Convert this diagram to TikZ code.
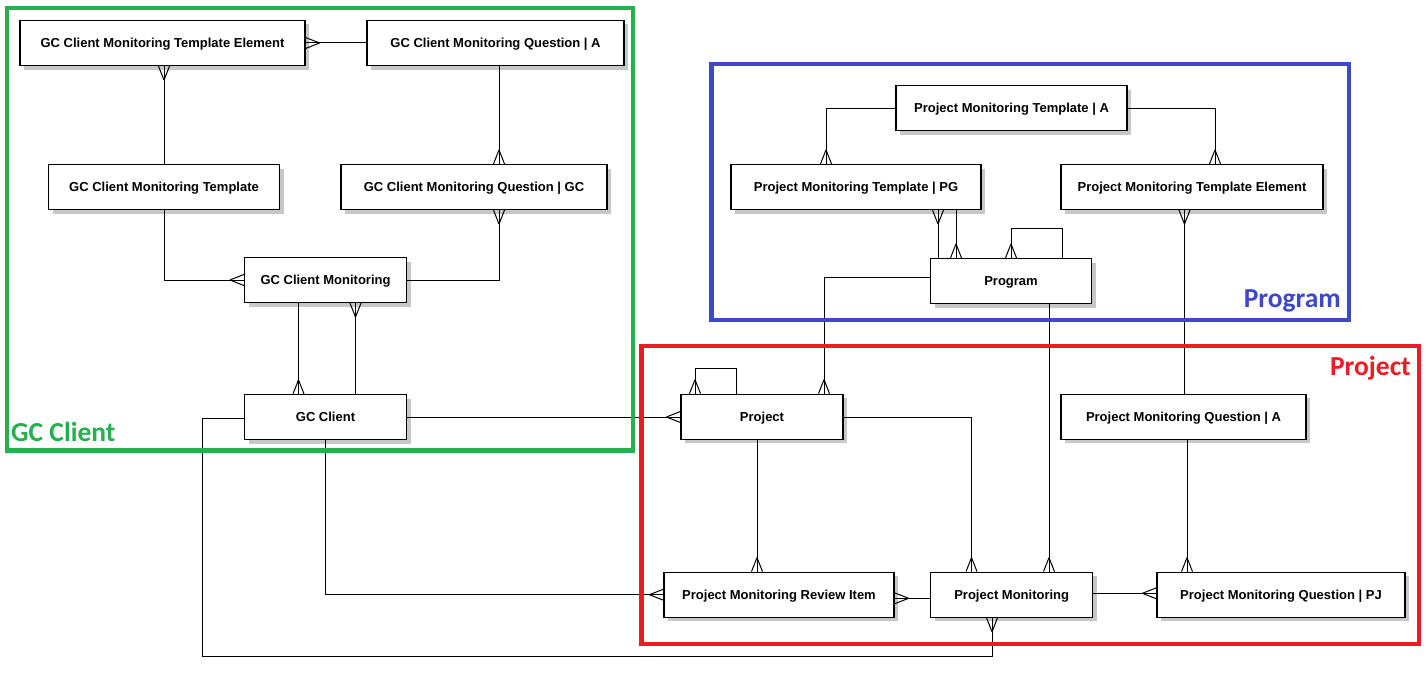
\documentclass[tikz,border=0pt]{standalone}
\usepackage{fontspec}
\setmainfont{Liberation Sans}
\newfontfamily\areafont{Carlito}
\usetikzlibrary{shadows,decorations.markings}
\definecolor{gcgreen}{HTML}{22B14C}
\definecolor{pgblue}{HTML}{3F48CC}
\definecolor{pjred}{HTML}{ED1C24}
\tikzset{
  ent/.style={draw, fill=white, line width=1.2pt, inner sep=0pt,
    minimum height=45pt, text height=11.3pt, text depth=2pt,
    font=\fontsize{13}{15}\selectfont\bfseries,
    drop shadow={shadow xshift=4pt, shadow yshift=-4pt, fill=black!22, opacity=1}},
  rel/.style={line width=1pt},
  % crow's foot at the end of a connector
  crowend/.style={rel, decoration={markings, mark=at position 1 with {
      \draw[line width=1pt] (-14,0) -- (0,5.5) (-14,0) -- (0,-5.5);}},
    postaction=decorate},
  area/.style={line width=4.5pt},
  arealabel/.style={font=\areafont\fontsize{27.5}{32}\selectfont\bfseries, inner sep=0pt}
}
\begin{document}
\begin{tikzpicture}[x=1pt, y=-1pt]
\useasboundingbox[fill=white] (0,0) rectangle (1426,677);

% entities
\node[ent, minimum width=285pt] (gcmte)  at (162.5,43)   {GC Client Monitoring Template Element};
\node[ent, minimum width=257pt] (gcmqa)  at (495.5,43)   {GC Client Monitoring Question | A};
\node[ent, minimum width=231pt] (gcmt)   at (164,187)    {GC Client Monitoring Template};
\node[ent, minimum width=266pt] (gcmqgc) at (474,187)    {GC Client Monitoring Question | GC};
\node[ent, minimum width=162pt] (gcm)    at (325.5,280)  {GC Client Monitoring};
\node[ent, minimum width=162pt] (gcc)    at (325.5,417)  {GC Client};
\node[ent, minimum width=231pt] (pmta)   at (1011.5,108) {Project Monitoring Template | A};
\node[ent, minimum width=250pt] (pmtpg)  at (856,187)    {Project Monitoring Template | PG};
\node[ent, minimum width=262pt] (pmte)   at (1192,187)   {Project Monitoring Template Element};
\node[ent, minimum width=161pt] (pg)     at (1011,281)   {Program};
\node[ent, minimum width=162pt] (pj)     at (762,416.7)  {Project};
\node[ent, minimum width=245pt] (pmqa)   at (1183.5,416.7) {Project Monitoring Question | A};
\node[ent, minimum width=230pt] (pmri)   at (779,594.7)  {Project Monitoring Review Item};
\node[ent, minimum width=162pt] (pm)     at (1011.7,594.7) {Project Monitoring};
\node[ent, minimum width=248pt] (pmqpj)  at (1281,594.7) {Project Monitoring Question | PJ};

\coordinate (lowleft) at (202,656);

% relationships of the GC Client group
\draw[crowend] (gcmqa.west) -- (gcmte.east);
\draw[crowend] (gcmt.north) -- (gcmt.north |- gcmte.south);
\draw[crowend] ([xshift=3.5pt]gcmqa.south) -- ([xshift=3.5pt]gcmqa.south |- gcmqgc.north);
\draw[crowend] (gcmt.south) |- (gcm.west);
\draw[crowend] (gcm.east) -| ([xshift=25pt]gcmqgc.south);
\draw[crowend] ([xshift=-27pt]gcm.south) -- ([xshift=-27pt]gcm.south |- gcc.north);
\draw[crowend] ([xshift=30pt]gcc.north) -- ([xshift=30pt]gcc.north |- gcm.south);
\draw[crowend] (gcc.east) -- (gcc.east -| pj.west);
\draw[crowend] ([yshift=-1.3pt]gcc.west) -| (lowleft) -| ([xshift=-19.7pt]pm.south);
\draw[crowend] (gcc.south) |- (pmri.west);

% relationships of the Program group
\draw[crowend] (pmta.west) -| ([xshift=-30pt]pmtpg.north);
\draw[crowend] (pmta.east) -| ([xshift=23pt]pmte.north);
\draw[crowend] ([xshift=-73pt]pg.north) -- ([xshift=-73pt]pg.north |- pmtpg.south);
\draw[crowend] ([xshift=100pt]pmtpg.south) -- ([xshift=100pt]pmtpg.south |- pg.north);
\draw[crowend] ([xshift=51pt]pg.north) -- ++(0,-29) -| (pg.north);
\draw[crowend] ([yshift=3.7pt]pg.west) -| ([xshift=62pt]pj.north);
\draw[crowend] ([xshift=38pt]pg.south) -- ([xshift=38pt]pg.south |- pm.north);
\draw[crowend] ([xshift=1pt]pmqa.north) -- ([xshift=1pt]pmqa.north |- pmte.south);

% relationships of the Project group
\draw[crowend] ([xshift=-26pt]pj.north) -- ++(0,-25) -| ([xshift=-67pt]pj.north);
\draw[crowend] ([xshift=-5pt]pj.south) -- ([xshift=-5pt]pj.south |- pmri.north);
\draw[crowend] ([yshift=-0.6pt]pj.east) -| ([xshift=-40.2pt]pm.north);
\draw[crowend] ([xshift=3.5pt]pmqa.south) -- ([xshift=3.5pt]pmqa.south |- pmqpj.north);
\draw[crowend] ([yshift=-3.6pt]pm.west) -- ([yshift=-3.6pt]pm.west -| pmri.east);
\draw[crowend] ([yshift=1.4pt]pm.east) -- ([yshift=1.4pt]pm.east -| pmqpj.west);

% group frames and their titles
\draw[area, gcgreen] (7,8) rectangle (633,450.5);
\draw[area, pgblue] (711.5,64) rectangle (1349,320);
\draw[area, pjred] (641.5,346) rectangle (1419,644);
\node[arealabel, gcgreen, anchor=base west] (lgc) at (11,441) {GC Client};
\node[arealabel, pgblue, anchor=base east] (lpg) at (1341,307) {Program};
\node[arealabel, pjred, anchor=base east] (lpj) at (1411,375) {Project};
\end{tikzpicture}
\end{document}
